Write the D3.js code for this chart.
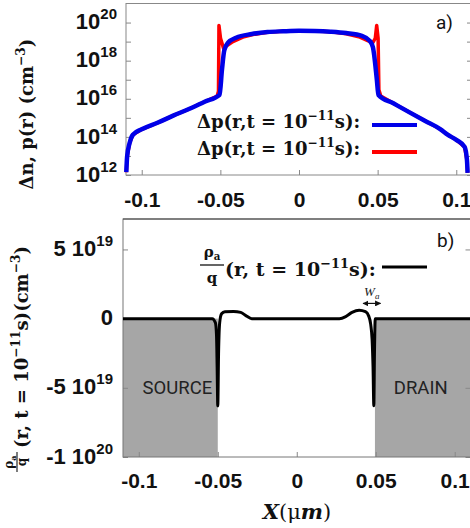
<!DOCTYPE html>
<html>
<head>
<meta charset="utf-8">
<script src="https://cdn.jsdelivr.net/npm/d3@7"></script>
<style>
  body { margin: 0; background: #fff; }
  .tick text { font-family: "Liberation Sans", Arial, sans-serif; font-weight: bold; fill: #111; }
</style>
</head>
<body>
<div id="chart"></div>
<script>
// ---- data ----
const xTicks = [-0.1, -0.05, 0, 0.05, 0.1];
const densTicks = [1e12, 1e13, 1e14, 1e15, 1e16, 1e17, 1e18, 1e19, 1e20];
const rhoTicks = [5e19, 0, -5e19, -1e20];
const rhoTickBase = ["5 10", "0", "-5 10", "-1 10"];
const rhoTickExp = ["19", "", "19", "20"];

// blue curve, top panel
const blueX = [-0.1098, -0.1093, -0.1077, -0.1056, -0.1, -0.09, -0.08, -0.07, -0.06, -0.0505,
  -0.049, -0.0475, -0.045, -0.04, -0.03, -0.02, -0.01, 0, 0.01, 0.02, 0.03, 0.04, 0.045, 0.047,
  0.0495, 0.0505, 0.06, 0.07, 0.08, 0.09, 0.0945, 0.1, 0.1053, 0.1068, 0.1072];
const blueV = [1.4e12, 9e12, 4.8e13, 1.3e14, 2.5e14, 5.5e14, 1.3e15, 2.9e15, 7e15, 1.6e16,
  3.2e17, 3.5e18, 9e18, 1.6e19, 2.5e19, 3.2e19, 3.5e19, 3.7e19, 3.6e19, 3.3e19, 2.8e19, 2e19, 1.1e19, 5e18,
  1e17, 1.6e16, 5.8e15, 2e15, 7e14, 2.5e14, 1.3e14, 7e13, 3e13, 6e12, 1.3e12];

// red curve, top panel
const redX = [-0.1098, -0.1093, -0.1077, -0.1056, -0.1, -0.09, -0.08, -0.07, -0.06, -0.052,
  -0.0512, -0.0509, -0.0499, -0.048, -0.046, -0.042, -0.035, -0.03, -0.02, -0.01, 0, 0.01, 0.02,
  0.03, 0.038, 0.044, 0.047, 0.0485, 0.0494, 0.0503, 0.0508, 0.052, 0.06, 0.07, 0.08, 0.09, 0.0945,
  0.1, 0.1053, 0.1068, 0.1072];
const redV = [1.4e12, 9e12, 4.8e13, 1.3e14, 2.5e14, 5.5e14, 1.3e15, 2.9e15, 7e15, 1.4e16,
  2.5e16, 7e19, 1.5e19, 4.5e18, 6e18, 1e19, 1.8e19, 2.3e19, 3.1e19, 3.5e19, 3.7e19, 3.6e19, 3.3e19,
  2.6e19, 1.8e19, 1.1e19, 9e18, 1.5e19, 7e19, 1.5e19, 3e16, 1.4e16, 5.8e15, 2e15, 7e14, 2.5e14, 1.3e14,
  7e13, 3e13, 6e12, 1.3e12];

// black curve, bottom panel
const rhoX = [-0.11, -0.0535, -0.0515, -0.0508, -0.0504, -0.05, -0.0495, -0.0488, -0.0476, -0.0455,
  -0.04, -0.0355, -0.032, -0.0285, 0.027, 0.031, 0.035, 0.0395, 0.0435, 0.0455, 0.0468, 0.0477,
  0.0483, 0.0488, 0.0492, 0.0497, 0.11];
const rhoV = [0, 0, -0.3e19, -1.2e19, -3.5e19, -6.3e19, -2.5e19, -0.3e19, 0.35e19, 0.5e19,
  0.52e19, 0.45e19, 0.2e19, 0, 0, 0.15e19, 0.45e19, 0.6e19, 0.5e19, 0.2e19, -0.4e19, -1.5e19,
  -3.5e19, -6.3e19, -2.5e19, 0, 0];

const regionNames = ["SOURCE", "DRAIN"];
const regionStart = [-0.11, 0.0495];
const regionEnd = [-0.05, 0.11];
const waSpan = [0.042, 0.053];
const waLevel = 1.1e19;

// ---- layout ----
const W = 470, H = 528;
const mathFont = '"DejaVu Serif", serif';
const sansFont = 'Roboto, "Liberation Sans", sans-serif';

const svg = d3.select("#chart").append("svg")
  .attr("width", W).attr("height", H)
  .style("font-family", mathFont);

const xA = d3.scaleLinear().domain([-0.11, 0.11]).range([126, 472]);
const yA = d3.scaleLog().domain([1e12, 1e21]).range([175, 3.5]);
const xB = d3.scaleLinear().domain([-0.11, 0.11]).range([123, 470.5]);
const yB = d3.scaleLinear().domain([-1e20, 7.2e19]).range([457, 219]);

// text with sup / sub / italic pieces
function mathText(g, x, y, size, parts) {
  const t = g.append("text").attr("x", x).attr("y", y)
    .attr("font-size", size).attr("font-weight", "bold").attr("fill", "#111");
  let cur = 0;
  parts.forEach(([s, k]) => {
    const off = k === "sup" ? -0.42 * size : k === "sub" ? 0.22 * size : 0;
    const ts = t.append("tspan").attr("dy", off - cur).text(s);
    cur = off;
    if (k === "sup" || k === "sub") ts.attr("font-size", 0.68 * size);
    if (k === "i") ts.attr("font-style", "italic");
  });
  return t;
}

// ================= panel a =================
const fmtX = d => d === 0 ? "0" : String(d);

const gxA = svg.append("g").attr("transform", `translate(0,${yA.range()[0]})`)
  .call(d3.axisBottom(xA).tickValues(xTicks).tickSizeInner(-5).tickSizeOuter(0)
    .tickPadding(17).tickFormat(fmtX));
gxA.select(".domain").remove();
gxA.selectAll(".tick line").attr("stroke", "#888");
gxA.selectAll(".tick text").attr("font-size", 21);

const gyA = svg.append("g").attr("transform", `translate(${xA.range()[0]},0)`)
  .call(d3.axisLeft(yA).tickValues(densTicks).tickSizeInner(-5).tickSizeOuter(0)
    .tickPadding(9).tickFormat(""));
gyA.select(".domain").remove();
gyA.selectAll(".tick line").attr("stroke", "#888");
gyA.selectAll(".tick text").attr("font-size", 22).attr("dy", "0.28em").each(function(d) {
  const e = Math.round(Math.log10(d));
  if (e % 2) return;
  const t = d3.select(this);
  t.append("tspan").text("10");
  t.append("tspan").attr("dy", -10).attr("font-size", 15).text(e);
});

const gyA2 = svg.append("g").attr("transform", `translate(${xA.range()[1]},0)`)
  .call(d3.axisRight(yA).tickValues(densTicks).tickSizeInner(-5).tickSizeOuter(0).tickFormat(""));
gyA2.select(".domain").remove();
gyA2.selectAll(".tick line").attr("stroke", "#888");

svg.append("rect")
  .attr("x", xA.range()[0]).attr("y", yA.range()[1])
  .attr("width", xA.range()[1] - xA.range()[0]).attr("height", yA.range()[0] - yA.range()[1])
  .attr("fill", "none").attr("stroke", "#888");

const lineA = d3.line().x(d => xA(d[0])).y(d => yA(d[1]));
svg.append("path").datum(d3.zip(redX, redV)).attr("d", lineA)
  .attr("fill", "none").attr("stroke", "#ff0000").attr("stroke-width", 3.5).attr("stroke-linejoin", "round");
svg.append("path").datum(d3.zip(blueX, blueV)).attr("d", lineA.curve(d3.curveMonotoneX))
  .attr("fill", "none").attr("stroke", "#0000e8").attr("stroke-width", 4.5).attr("stroke-linejoin", "round");

// legend a
const legA = svg.append("g");
const legParts = [["Δp(r,t = 10", ""], ["−11", "sup"], ["s", ""], ["):", ""]];
mathText(legA, 197, 128, 18, legParts);
mathText(legA, 197, 155, 18, legParts);
legA.append("line").attr("x1", 372).attr("x2", 417).attr("y1", 125).attr("y2", 125)
  .attr("stroke", "#0000e8").attr("stroke-width", 4);
legA.append("line").attr("x1", 372).attr("x2", 417).attr("y1", 152).attr("y2", 152)
  .attr("stroke", "#ff0000").attr("stroke-width", 4);

svg.append("text").attr("x", 436).attr("y", 29).attr("font-family", sansFont)
  .attr("font-size", 19).attr("fill", "#111").text("a)");

// y label a
const ylA = svg.append("g").attr("transform", "translate(33,114) rotate(-90)");
mathText(ylA, 0, 0, 18, [["Δn, p(r) (cm", ""], ["−3", "sup"], [")", ""]]).attr("text-anchor", "middle");

// ================= panel b =================
regionNames.forEach((name, i) => {
  svg.append("rect")
    .attr("x", xB(regionStart[i])).attr("y", yB(0))
    .attr("width", xB(regionEnd[i]) - xB(regionStart[i])).attr("height", yB(-1e20) - yB(0))
    .attr("fill", "#a6a6a6");
  svg.append("text")
    .attr("x", (xB(regionStart[i]) + xB(regionEnd[i])) / 2 + (i ? -2 : 7))
    .attr("y", yB(-5e19) + 6)
    .attr("text-anchor", "middle").attr("font-family", sansFont)
    .attr("font-size", 18.5).attr("fill", "#222").text(name);
});

const gxB = svg.append("g").attr("transform", `translate(0,${yB.range()[0]})`)
  .call(d3.axisBottom(xB).tickValues(xTicks).tickSizeInner(-5).tickSizeOuter(0)
    .tickPadding(16).tickFormat(fmtX));
gxB.select(".domain").remove();
gxB.selectAll(".tick line").attr("stroke", "#888");
gxB.selectAll(".tick text").attr("font-size", 21);

const gyB = svg.append("g").attr("transform", `translate(${xB.range()[0]},0)`)
  .call(d3.axisLeft(yB).tickValues(rhoTicks).tickSizeInner(-5).tickSizeOuter(0)
    .tickPadding(10).tickFormat(""));
gyB.select(".domain").remove();
gyB.selectAll(".tick line").attr("stroke", "#888");
gyB.selectAll(".tick text").attr("font-size", 22).attr("dy", "0.28em").each(function(d, i) {
  const t = d3.select(this);
  t.append("tspan").text(rhoTickBase[i]);
  if (rhoTickExp[i]) t.append("tspan").attr("dy", -10).attr("font-size", 15).text(rhoTickExp[i]);
});

const gyB2 = svg.append("g").attr("transform", `translate(${xB.range()[1]},0)`)
  .call(d3.axisRight(yB).tickValues(rhoTicks).tickSizeInner(-5).tickSizeOuter(0).tickFormat(""));
gyB2.select(".domain").remove();
gyB2.selectAll(".tick line").attr("stroke", "#888");

svg.append("rect")
  .attr("x", xB.range()[0]).attr("y", yB.range()[1])
  .attr("width", xB.range()[1] - xB.range()[0]).attr("height", yB.range()[0] - yB.range()[1])
  .attr("fill", "none").attr("stroke", "#777");
svg.append("line").attr("x1", xB.range()[0]).attr("x2", W)
  .attr("y1", yB.range()[1]).attr("y2", yB.range()[1]).attr("stroke", "#444");

const lineB = d3.line().x(d => xB(d[0])).y(d => yB(d[1])).curve(d3.curveMonotoneX);
svg.append("path").datum(d3.zip(rhoX, rhoV)).attr("d", lineB)
  .attr("fill", "none").attr("stroke", "#000").attr("stroke-width", 3).attr("stroke-linejoin", "round");

// W_a annotation
const wa = svg.append("g");
const defs = svg.append("defs");
defs.append("marker").attr("id", "ah").attr("viewBox", "0 0 10 10").attr("refX", 9).attr("refY", 5)
  .attr("markerWidth", 5).attr("markerHeight", 5).attr("orient", "auto-start-reverse")
  .append("path").attr("d", "M0,0L10,5L0,10Z").attr("fill", "#111");
wa.append("line").attr("x1", xB(waSpan[0])).attr("x2", xB(waSpan[1]))
  .attr("y1", yB(waLevel)).attr("y2", yB(waLevel)).attr("stroke", "#111").attr("stroke-width", 1.2)
  .attr("marker-start", "url(#ah)").attr("marker-end", "url(#ah)");
const waT = wa.append("text").attr("x", (xB(waSpan[0]) + xB(waSpan[1])) / 2).attr("y", yB(waLevel) - 7)
  .attr("text-anchor", "middle").attr("font-family", '"Liberation Serif", serif')
  .attr("font-style", "italic").attr("font-size", 13).attr("fill", "#222");
waT.append("tspan").text("W");
waT.append("tspan").attr("dy", 3).attr("font-size", 9).text("a");

// legend b
const legB = svg.append("g");
mathText(legB, 212, 257, 15, [["ρ", ""], ["a", "sub"]]).attr("text-anchor", "middle");
legB.append("line").attr("x1", 200).attr("x2", 224).attr("y1", 265).attr("y2", 265)
  .attr("stroke", "#111").attr("stroke-width", 1.3);
mathText(legB, 212, 283, 15, [["q", ""]]).attr("text-anchor", "middle");
mathText(legB, 225, 276, 19, [["(r, t = 10", ""], ["−11", "sup"], ["s", ""], ["):", ""]]);
legB.append("line").attr("x1", 382).attr("x2", 427).attr("y1", 267).attr("y2", 267)
  .attr("stroke", "#000").attr("stroke-width", 3);

svg.append("text").attr("x", 437).attr("y", 247).attr("font-family", sansFont)
  .attr("font-size", 19).attr("fill", "#111").text("b)");

// y label b (rotated)
const ylB = svg.append("g").attr("transform", "translate(28,474) rotate(-90)");
mathText(ylB, 12, -15, 12, [["ρ", ""], ["a", "sub"]]).attr("text-anchor", "middle");
ylB.append("line").attr("x1", 2).attr("x2", 22).attr("y1", -11).attr("y2", -11)
  .attr("stroke", "#111").attr("stroke-width", 1.1);
mathText(ylB, 12, -2, 12, [["q", ""]]).attr("text-anchor", "middle");
mathText(ylB, 26, 0, 18, [["(r, t = 10", ""], ["−11", "sup"], ["s)(cm", ""], ["−3", "sup"], [")", ""]]);

// x label
const xl = svg.append("text").attr("x", 297).attr("y", 519).attr("text-anchor", "middle")
  .attr("font-size", 21).attr("font-weight", "bold").attr("fill", "#111");
xl.append("tspan").attr("font-style", "italic").text("X");
xl.append("tspan").attr("font-weight", "normal").text("(μ");
xl.append("tspan").attr("font-style", "italic").text("m");
xl.append("tspan").attr("font-weight", "normal").text(")");
</script>
</body>
</html>
